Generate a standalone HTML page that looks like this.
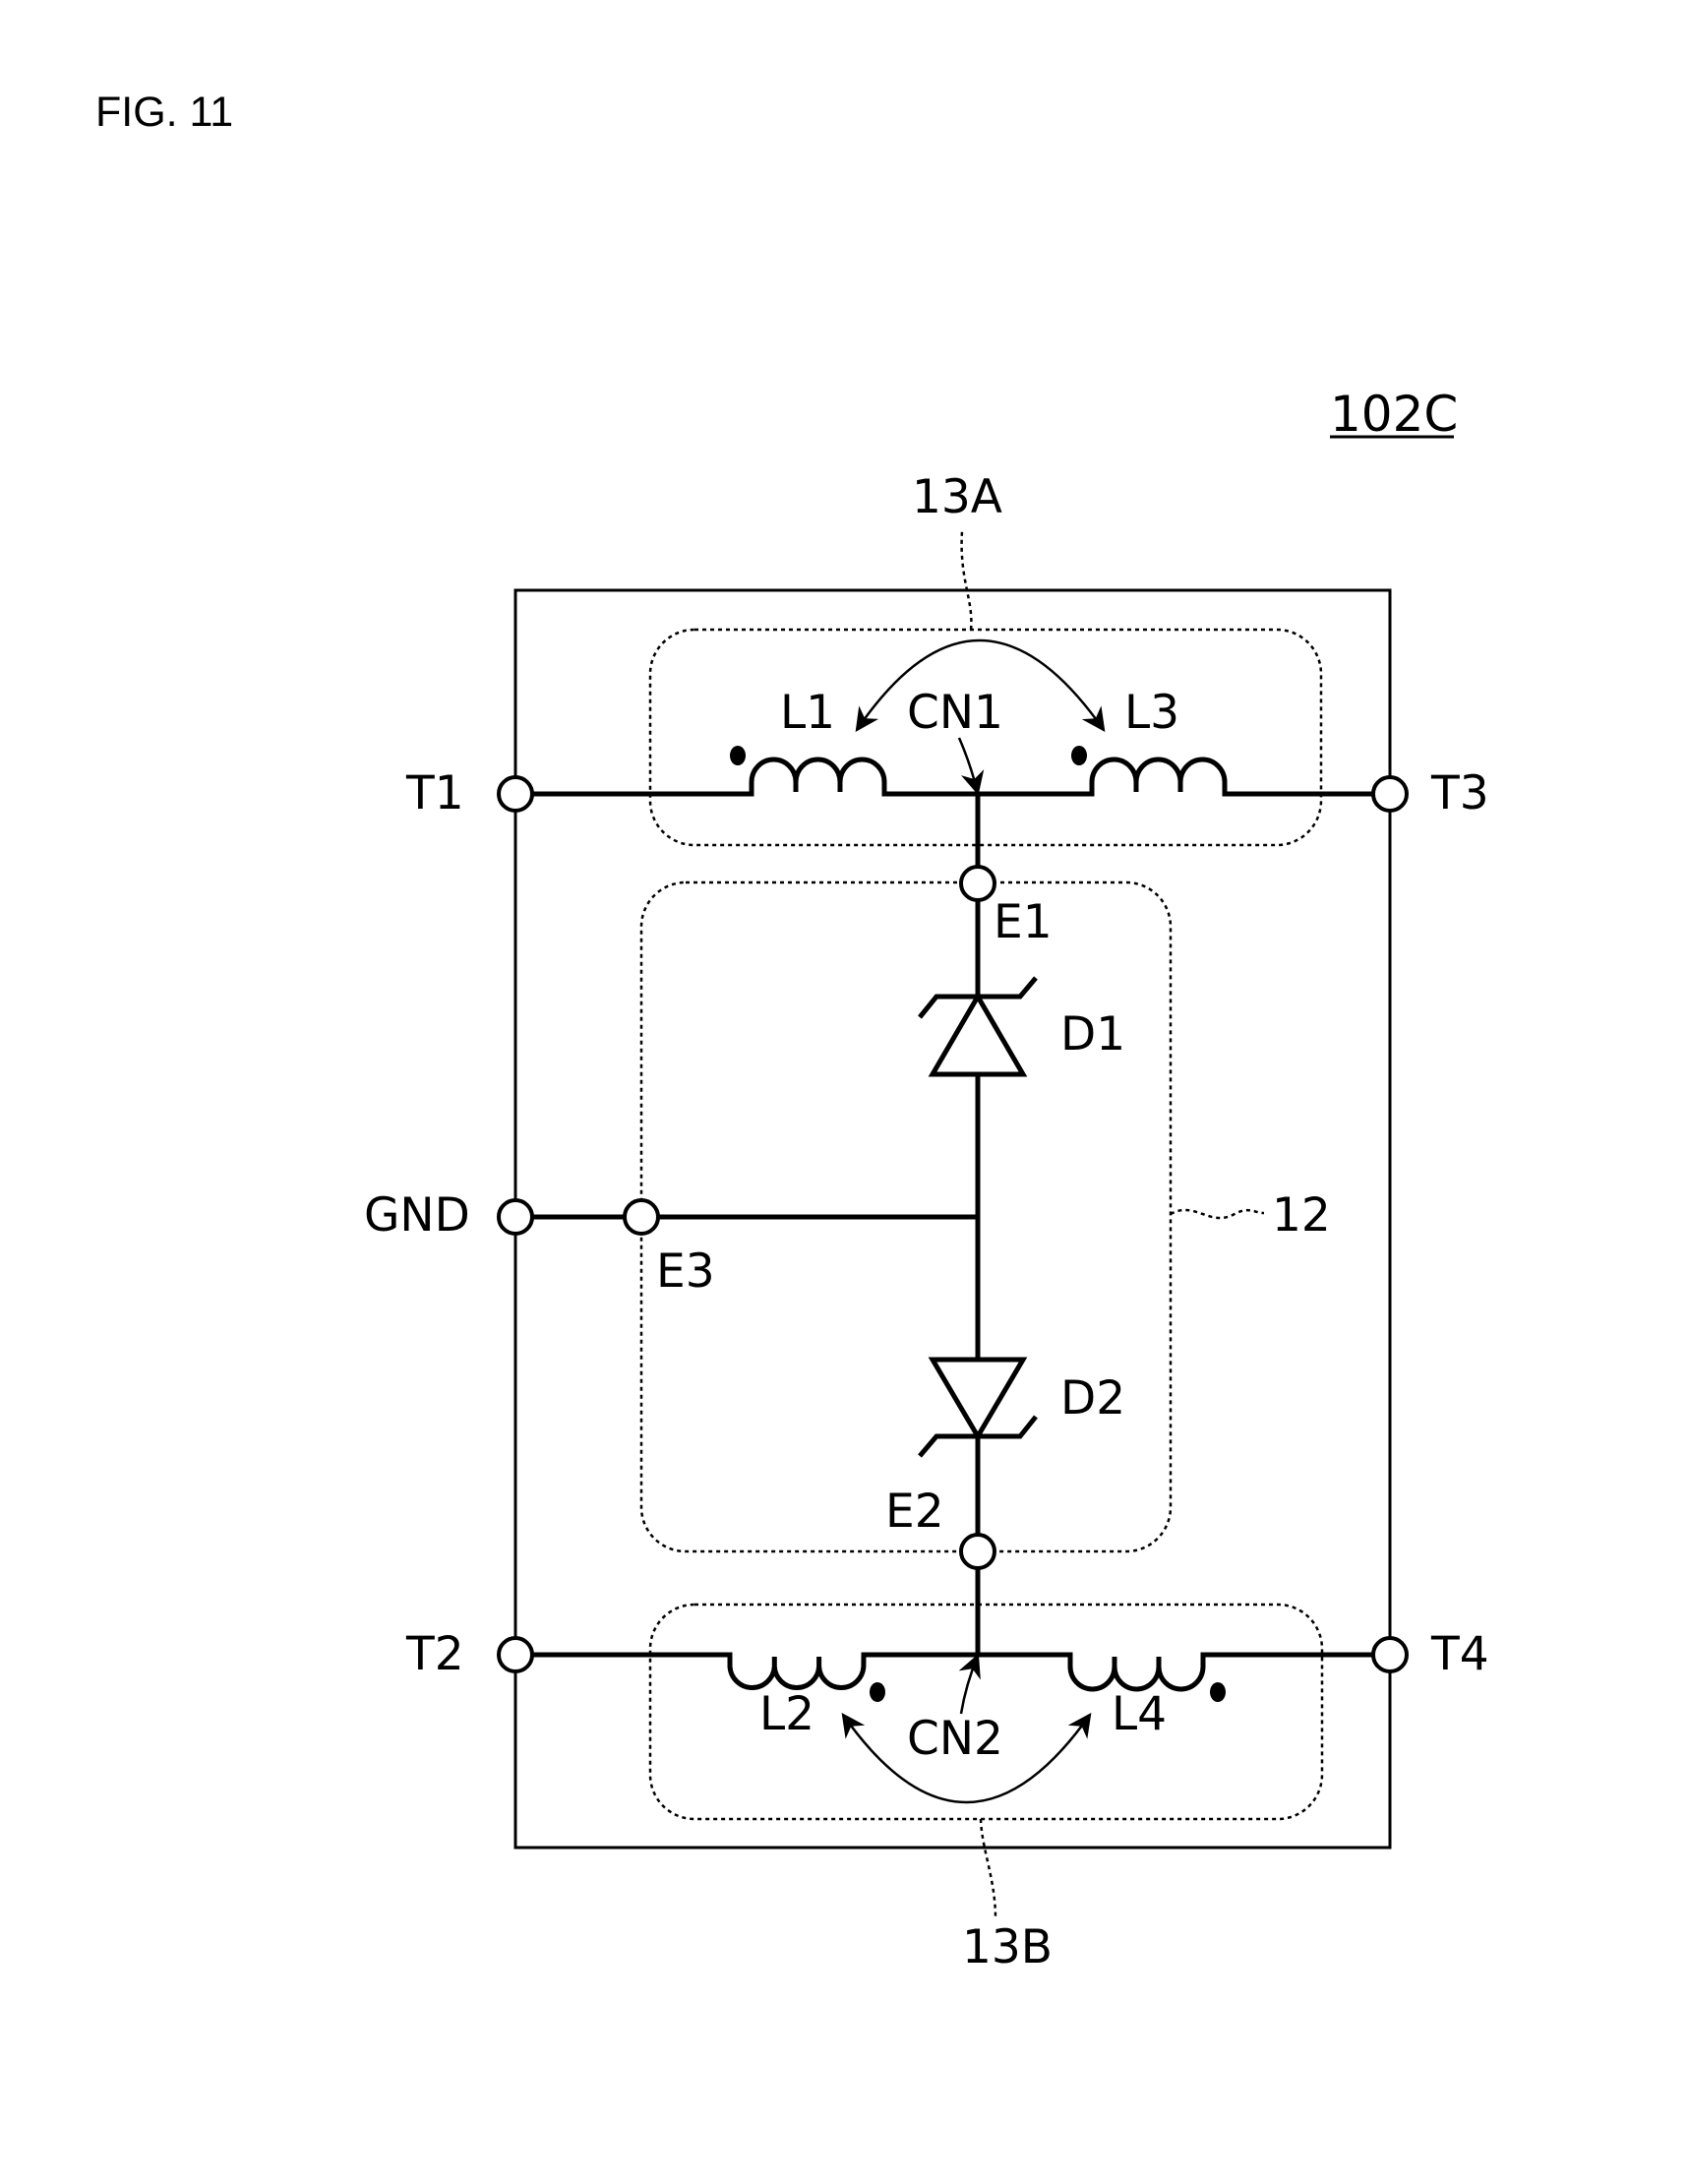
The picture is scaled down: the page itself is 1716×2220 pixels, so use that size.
<!DOCTYPE html>
<html><head><style>
html,body{margin:0;padding:0;background:#fff;}
svg{display:block;}
text{font-family:"DejaVu Sans","Liberation Sans",sans-serif;font-size:47px;fill:#000;}
</style></head><body>
<svg width="1716" height="2220" viewBox="0 0 1716 2220" xmlns="http://www.w3.org/2000/svg">
<defs>
<marker id="ah2" viewBox="0 0 10 10" refX="9" refY="5" markerWidth="32" markerHeight="24" markerUnits="userSpaceOnUse" orient="auto-start-reverse">
<path d="M0,0 L10,5 L0,10 L3,5 z" fill="#000"/>
</marker>
</defs>
<text x="97" y="128" style="font-family:'Liberation Sans',sans-serif;font-size:43px">FIG. 11</text>
<text x="1352" y="438" style="font-size:50px">102C</text>
<line x1="1352" y1="444" x2="1478" y2="444" stroke="#000" stroke-width="3"/>

<rect x="524" y="600" width="889" height="1278" fill="none" stroke="#000" stroke-width="3"/>

<g fill="none" stroke="#000" stroke-width="2.5" stroke-dasharray="4,4">
<rect x="661" y="640" width="682" height="219" rx="45"/>
<rect x="652" y="897" width="538" height="680" rx="45"/>
<rect x="661" y="1631" width="683" height="218" rx="45"/>
<path d="M987,640 C990,610 975,590 978,540"/>
<path d="M997,1849 C998,1880 1012,1910 1012,1950"/>
<path d="M1190,1234 C1215,1220 1230,1248 1255,1234 C1270,1226 1275,1233 1285,1233"/>
</g>

<g fill="none" stroke="#000" stroke-width="5">
<path d="M541,807 L764,807 L764,795 a22.5,23 0 0 1 45,0 L809,805 M809,795 a22.5,23 0 0 1 45,0 L854,805 M854,795 a22.5,23 0 0 1 45,0 L899,807 L1110,807 L1110,795 a22.5,23 0 0 1 45,0 L1155,805 M1155,795 a22.5,23 0 0 1 45,0 L1200,805 M1200,795 a22.5,23 0 0 1 45,0 L1245,807 L1396,807"/>
<line x1="994" y1="807" x2="994" y2="881"/>
<line x1="994" y1="915" x2="994" y2="1013"/>
<line x1="994" y1="1092" x2="994" y2="1382"/>
<line x1="994" y1="1460" x2="994" y2="1560"/>
<line x1="994" y1="1594" x2="994" y2="1682"/>
<line x1="541" y1="1237" x2="635" y2="1237"/>
<line x1="669" y1="1237" x2="994" y2="1237"/>
<path d="M541,1682 L742,1682 L742,1694 a22.7,23 0 0 0 45.3,0 L787.3,1684 M787.3,1694 a22.7,23 0 0 0 45.3,0 L832.6,1684 M832.6,1694 a22.7,23 0 0 0 45.3,0 L878,1682 L1088,1682 L1088,1694 a22.5,23 0 0 0 45,0 L1133,1684 M1133,1694 a22.5,23 0 0 0 45,0 L1178,1684 M1178,1694 a22.5,23 0 0 0 45,0 L1223,1682 L1396,1682"/>
<path d="M948,1092 L1040,1092 L994,1013 Z"/>
<path d="M935,1034 L952,1013 L1037,1013 L1053,994"/>
<path d="M948,1382 L1040,1382 L994,1460 Z"/>
<path d="M935,1480 L952,1460 L1037,1460 L1053,1440"/>
</g>
<g fill="#000">
<ellipse cx="750" cy="768" rx="8" ry="10"/>
<ellipse cx="1097" cy="768" rx="8" ry="10"/>
<ellipse cx="892" cy="1720" rx="8" ry="10"/>
<ellipse cx="1238" cy="1720" rx="8" ry="10"/>
</g>
<g fill="#fff" stroke="#000" stroke-width="4">
<circle cx="524" cy="807" r="17"/>
<circle cx="1413" cy="807" r="17"/>
<circle cx="524" cy="1237" r="17"/>
<circle cx="652" cy="1237" r="17"/>
<circle cx="524" cy="1682" r="17"/>
<circle cx="1413" cy="1682" r="17"/>
<circle cx="994" cy="898" r="17"/>
<circle cx="994" cy="1577" r="17"/>
</g>
<g fill="none" stroke="#000" stroke-width="2.5">
<path d="M871,742 Q995,560 1122,742" marker-start="url(#ah2)" marker-end="url(#ah2)"/>
<path d="M975,750 Q986,775 994,806" marker-end="url(#ah2)"/>
<path d="M857,1743 Q982,1921 1108,1743" marker-start="url(#ah2)" marker-end="url(#ah2)"/>
<path d="M977,1742 Q982,1712 994,1683" marker-end="url(#ah2)"/>
</g>
<text x="927" y="521">13A</text>
<text x="793" y="740">L1</text>
<text x="922" y="740">CN1</text>
<text x="1143" y="740">L3</text>
<text x="413" y="822">T1</text>
<text x="1455" y="822">T3</text>
<text x="1010" y="953">E1</text>
<text x="1078" y="1067">D1</text>
<text x="370" y="1251">GND</text>
<text x="667" y="1308">E3</text>
<text x="1293" y="1251">12</text>
<text x="1078" y="1437">D2</text>
<text x="900" y="1552">E2</text>
<text x="413" y="1697">T2</text>
<text x="1455" y="1697">T4</text>
<text x="772" y="1758">L2</text>
<text x="922" y="1783">CN2</text>
<text x="1130" y="1758">L4</text>
<text x="978" y="1995">13B</text>
</svg>
</body></html>
